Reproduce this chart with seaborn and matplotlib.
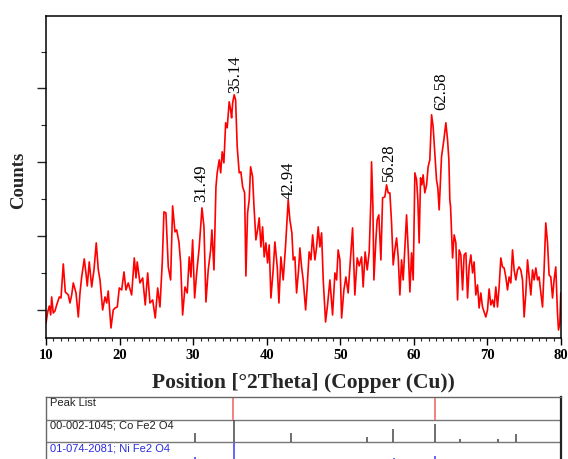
import matplotlib
matplotlib.use("Agg")
import matplotlib.pyplot as plt
import seaborn as sns
import pandas as pd
from matplotlib.ticker import MultipleLocator, FixedLocator

# ---------------- data ----------------
two_theta = [
    10.00, 10.23, 10.45, 10.64, 10.77, 10.99, 11.22, 11.45, 11.81, 12.04,
    12.35, 12.62, 13.03, 13.26, 13.49, 13.71, 14.08, 14.39, 14.62, 14.85,
    15.20, 15.43, 15.61, 15.88, 16.21, 16.52, 16.83, 17.11, 17.34, 17.70,
    18.02, 18.25, 18.46, 18.83, 19.14, 19.38, 19.69, 19.96, 20.29, 20.60,
    20.87, 21.18, 21.64, 22.00, 22.23, 22.40, 22.77, 23.14, 23.49, 23.82,
    24.13, 24.50, 24.85, 25.18, 25.49, 25.80, 26.03, 26.30, 26.62, 26.94,
    27.21, 27.53, 27.76, 28.07, 28.30, 28.57, 28.89, 29.20, 29.47, 29.70,
    29.93, 30.20, 30.48, 30.83, 31.20, 31.47, 31.74, 32.05, 32.38, 32.55,
    32.83, 33.10, 33.27, 33.55, 33.74, 33.95, 34.18, 34.42, 34.63, 34.90,
    35.09, 35.23, 35.37, 35.58, 35.77, 35.99, 36.26, 36.49, 36.73, 37.00,
    37.17, 37.40, 37.62, 37.81, 38.08, 38.26, 38.53, 38.76, 38.98, 39.21,
    39.44, 39.66, 39.89, 40.12, 40.34, 40.57, 40.88, 41.11, 41.43, 41.66,
    41.93, 42.24, 42.57, 42.92, 43.15, 43.42, 43.60, 43.83, 44.06, 44.33,
    44.51, 44.74, 44.96, 45.29, 45.50, 45.77, 46.01, 46.24, 46.55, 46.78,
    47.00, 47.23, 47.46, 47.68, 48.00, 48.27, 48.59, 48.95, 49.27, 49.50,
    49.71, 49.95, 50.18, 50.49, 50.76, 51.07, 51.30, 51.67, 51.98, 52.30,
    52.57, 52.89, 53.11, 53.38, 53.66, 53.93, 54.16, 54.25, 54.43, 54.57,
    54.84, 55.01, 55.24, 55.52, 55.75, 56.06, 56.29, 56.51, 56.74, 56.97,
    57.19, 57.42, 57.65, 57.87, 58.10, 58.33, 58.55, 58.78, 59.01, 59.23,
    59.46, 59.69, 59.91, 60.14, 60.37, 60.54, 60.72, 60.91, 61.09, 61.26,
    61.49, 61.73, 61.94, 62.17, 62.41, 62.62, 62.85, 63.08, 63.26, 63.44,
    63.63, 63.76, 64.08, 64.35, 64.58, 64.76, 64.89, 64.99, 65.26, 65.48,
    65.71, 65.94, 66.16, 66.39, 66.62, 66.83, 67.07, 67.30, 67.51, 67.75,
    67.98, 68.19, 68.42, 68.66, 68.87, 69.10, 69.33, 69.55, 69.78, 70.01,
    70.23, 70.46, 70.69, 70.91, 71.14, 71.37, 71.59, 71.82, 72.05, 72.27,
    72.50, 72.73, 72.95, 73.18, 73.41, 73.63, 73.86, 74.09, 74.31, 74.54,
    74.77, 74.99, 75.22, 75.45, 75.67, 75.90, 76.13, 76.35, 76.58, 76.81,
    77.02, 77.26, 77.49, 77.70, 77.93, 78.17, 78.38, 78.61, 78.85, 79.06,
    79.29, 79.52, 79.66, 79.84, 79.97,
]
counts = [
    15, 26, 32, 23, 41, 25, 27, 33, 41, 40,
    74, 46, 43, 35, 43, 55, 45, 21, 45, 61,
    79, 65, 52, 76, 51, 68, 95, 68, 58, 28,
    41, 35, 47, 10, 28, 30, 31, 50, 48, 66,
    48, 55, 43, 80, 60, 76, 55, 60, 33, 65,
    35, 38, 20, 50, 31, 75, 126, 125, 71, 58,
    132, 106, 108, 96, 75, 23, 51, 45, 81, 61,
    98, 40, 65, 91, 130, 111, 36, 68, 88, 108,
    68, 151, 165, 178, 165, 186, 175, 215, 210, 236,
    228, 220, 235, 243, 238, 191, 165, 166, 151, 145,
    62, 125, 138, 171, 161, 133, 98, 108, 120, 91,
    111, 81, 95, 75, 93, 40, 68, 96, 71, 35,
    81, 58, 93, 138, 118, 105, 78, 81, 45, 68,
    90, 71, 58, 28, 51, 86, 78, 103, 78, 91,
    111, 91, 105, 58, 16, 33, 58, 23, 65, 58,
    88, 78, 20, 48, 61, 45, 70, 110, 43, 80,
    72, 81, 51, 86, 68, 86, 138, 176, 133, 58,
    98, 118, 123, 78, 140, 141, 153, 145, 145, 115,
    73, 88, 100, 81, 43, 78, 58, 91, 123, 88,
    46, 85, 58, 165, 158, 138, 95, 160, 153, 163,
    145, 153, 171, 178, 223, 211, 185, 158, 150, 128,
    161, 181, 198, 215, 198, 178, 138, 131, 80, 103,
    95, 38, 88, 83, 48, 83, 85, 40, 71, 83,
    65, 76, 43, 53, 30, 45, 31, 26, 21, 28,
    49, 33, 38, 31, 51, 31, 51, 80, 71, 70,
    61, 48, 61, 55, 88, 68, 58, 68, 71, 68,
    58, 21, 45, 78, 61, 43, 68, 58, 70, 58,
    61, 45, 31, 68, 115, 95, 63, 61, 40, 58,
    71, 25, 8, 15, 45,
]
assert len(two_theta) == len(counts)

peak_labels = ["31.49", "35.14", "42.94", "56.28", "62.58"]
peak_label_x = [31.06, 35.68, 42.97, 56.60, 63.76]
peak_label_y = [155, 264, 158, 176, 247]

x_ticks = [10, 20, 30, 40, 50, 60, 70, 80]

# reference pattern panel
measured_peaks = [35.45, 62.85]
co_ref_label = "00-002-1045; Co Fe2 O4"
co_ref_pos = [30.24, 35.52, 43.29, 53.57, 57.19, 62.85, 66.25, 71.37, 73.95]
co_ref_rel = [0.40, 1.00, 0.44, 0.22, 0.62, 0.84, 0.13, 0.13, 0.36]
ni_ref_label = "01-074-2081; Ni Fe2 O4"
ni_ref_pos = [30.24, 35.62, 43.29, 57.25, 62.90]
ni_ref_rel = [0.35, 1.00, 0.20, 0.30, 0.40]

# ---------------- figure ----------------
sns.set_style("ticks")
plt.rcParams["font.family"] = ["Liberation Serif", "DejaVu Serif"]

W, H = 568, 459
fig = plt.figure(figsize=(W / 100, H / 100), dpi=100)
fig.patch.set_facecolor("white")

ax = fig.add_axes([46 / W, (H - 338) / H, 515 / W, 322.3 / H])
df = pd.DataFrame({"two_theta": two_theta, "counts": counts})
sns.lineplot(data=df, x="two_theta", y="counts", color="#ff0000", lw=1.2,
             sort=False, estimator=None, ax=ax)

ax.set_xlim(10, 80)
ax.set_ylim(0, 322)
ax.xaxis.set_major_locator(FixedLocator(x_ticks))
ax.xaxis.set_minor_locator(MultipleLocator(1))
ax.yaxis.set_major_locator(FixedLocator([28, 102, 176, 250]))
ax.yaxis.set_minor_locator(FixedLocator([65, 139, 213, 286]))
ax.set_yticklabels([])
ax.set_xticklabels([str(t) for t in x_ticks], fontweight="bold", fontsize=10.5)
ax.tick_params(axis="x", which="major", length=5, width=1, direction="out",
               pad=3, colors="black")
ax.tick_params(axis="x", which="minor", length=2.5, width=0.8, direction="out")
ax.tick_params(axis="y", which="major", length=6.5, width=1, direction="out")
ax.tick_params(axis="y", which="minor", length=3.3, width=0.8, direction="out")
for s in ax.spines.values():
    s.set_visible(True)
    s.set_color("black")
    s.set_linewidth(1.1)

ax.set_xlabel("Position [°2Theta] (Copper (Cu))", fontsize=15.5,
              fontweight="bold", labelpad=8)
ax.set_ylabel("Counts", fontsize=13.5, fontweight="bold")
ax.yaxis.set_label_coords(-0.036, 0.49)

for lab, lx, ly in zip(peak_labels, peak_label_x, peak_label_y):
    ax.text(lx, ly, lab, rotation=90, ha="center", va="center", fontsize=12,
            color="black")

# reference-pattern panel (cut off at the bottom of the figure)
ax2 = fig.add_axes([46 / W, (H - 465) / H, 515 / W, 68 / H])
ax2.set_xlim(10, 80)
ax2.set_ylim(0, 3)
ax2.set_xticks([])
ax2.set_yticks([])
ax2.set_facecolor("white")
for name, s in ax2.spines.items():
    s.set_color("#666666")
    s.set_linewidth(1.0)
ax2.spines["right"].set_color("#222222")
ax2.spines["right"].set_linewidth(1.6)
ax2.spines["bottom"].set_visible(False)
ax2.axhline(2, color="#777777", lw=1.0)
ax2.axhline(1, color="#777777", lw=1.0)

ax2.vlines(measured_peaks, 2, 2.95, color="#f07878", lw=1.3)
ax2.vlines(co_ref_pos, 1, [1 + 0.98 * r for r in co_ref_rel], color="#555555",
           lw=1.2)
ax2.vlines(ni_ref_pos, 0, [0.98 * r for r in ni_ref_rel], color="#4a4aff",
           lw=1.2)

sans = ["Liberation Sans", "DejaVu Sans"]
ax2.text(10.5, 2.97, "Peak List", va="top", ha="left", fontsize=8,
         family=sans, color="#222222")
ax2.text(10.5, 1.95, co_ref_label, va="top", ha="left", fontsize=8,
         family=sans, color="#222222")
ax2.text(10.5, 0.95, ni_ref_label, va="top", ha="left", fontsize=8,
         family=sans, color="#2a2ae0")

fig.savefig("out.png", dpi=100, facecolor="white")
